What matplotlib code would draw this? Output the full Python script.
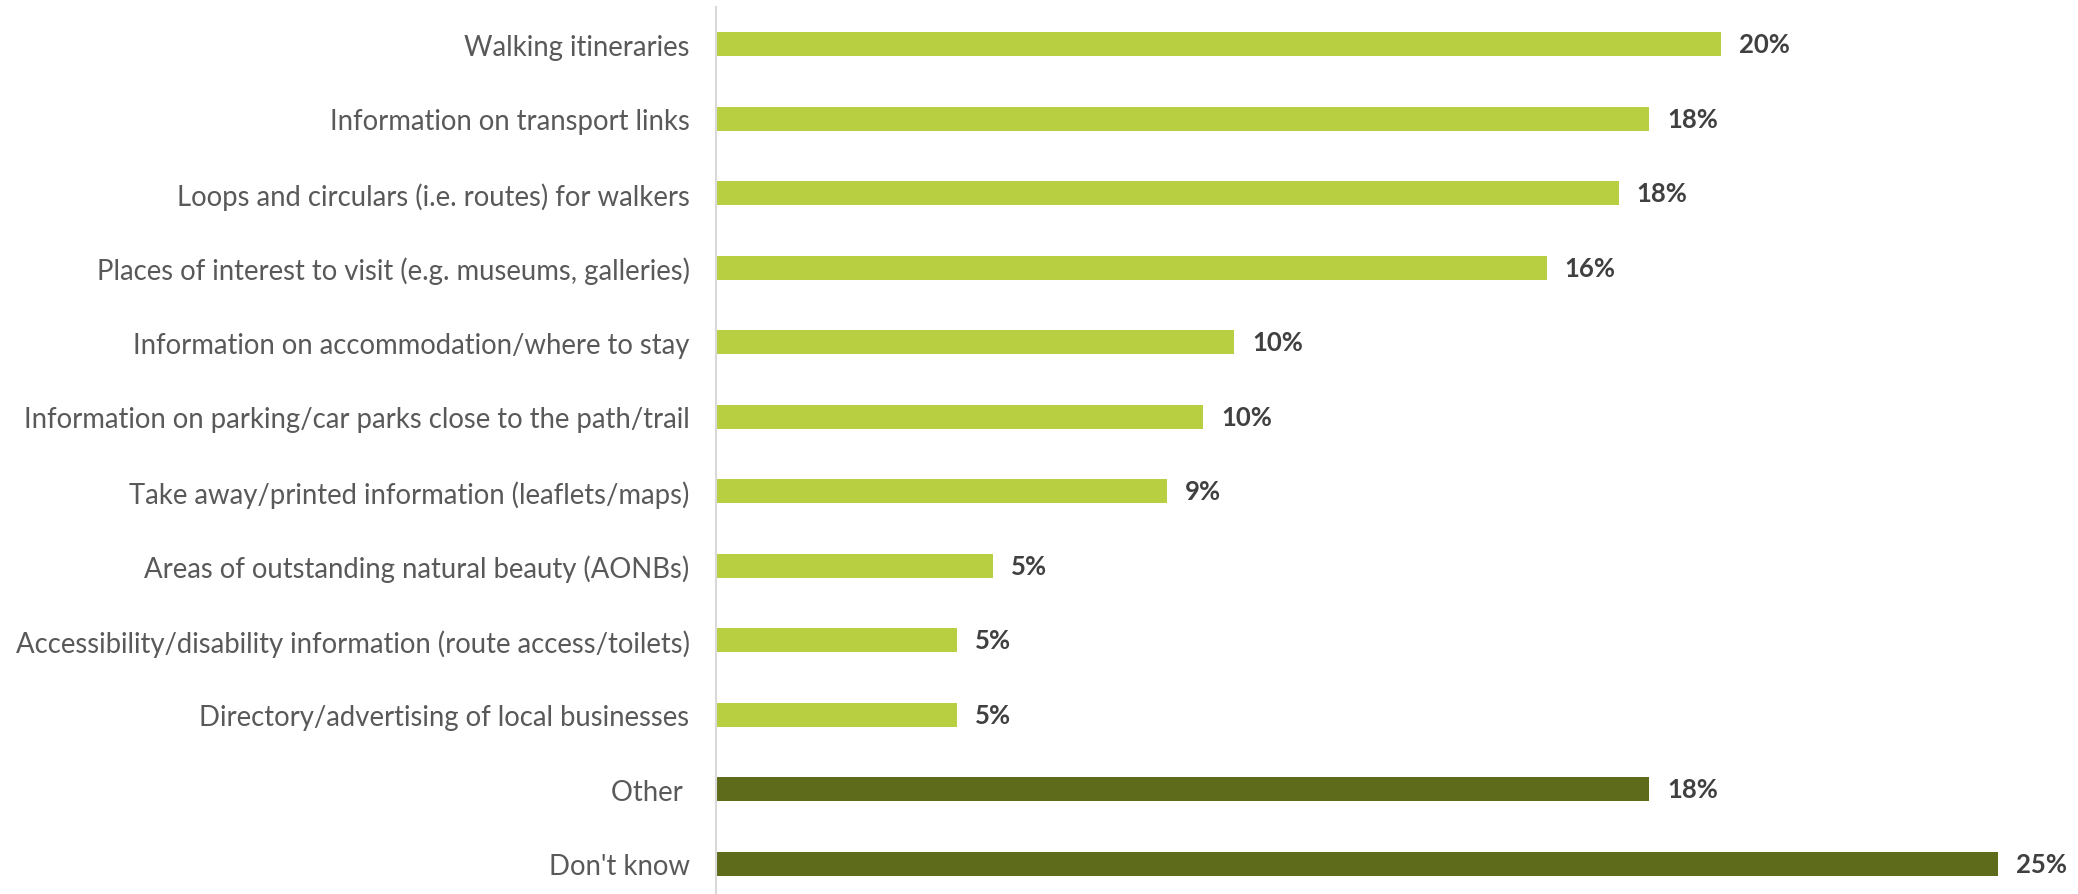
import matplotlib
matplotlib.use("Agg")
import matplotlib.pyplot as plt

categories = [
    "Walking itineraries",
    "Information on transport links",
    "Loops and circulars (i.e. routes) for walkers",
    "Places of interest to visit (e.g. museums, galleries)",
    "Information on accommodation/where to stay",
    "Information on parking/car parks close to the path/trail",
    "Take away/printed information (leaflets/maps)",
    "Areas of outstanding natural beauty (AONBs)",
    "Accessibility/disability information (route access/toilets)",
    "Directory/advertising of local businesses",
    "Other ",
    "Don't know",
]
values = [19.6, 18.2, 17.6, 16.2, 10.1, 9.5, 8.8, 5.4, 4.7, 4.7, 18.2, 25.0]
is_summary = [False] * 10 + [True, True]

light_green = "#B8CF41"
dark_green = "#5E6B1B"

fig = plt.figure(figsize=(20.78, 8.95), dpi=100)
W, H = 2078, 895
left, right = 716, 2000
top, bottom = 8, 902
ax = fig.add_axes([left / W, (H - bottom) / H, (right - left) / W, (bottom - top) / H])

ypos = list(range(len(categories)))
colors = [dark_green if s else light_green for s in is_summary]
bars = ax.barh(ypos, values, height=0.32, color=colors)

ax.set_ylim(len(categories) - 0.5, -0.5)
ax.set_xlim(0, 25.0 * (right - left) / 1282)

ax.set_yticks(ypos)
ax.set_yticklabels(categories, fontsize=19.8, color="#595959", family=["Lato", "DejaVu Sans"])
ax.tick_params(axis="y", length=0, pad=19)
ax.set_xticks([])

for side in ("top", "right", "bottom"):
    ax.spines[side].set_visible(False)
ax.spines["left"].set_color("#D9D9D9")
ax.spines["left"].set_linewidth(1.5)

for b, v in zip(bars, values):
    ax.annotate(f"{round(v + 1e-9):d}%", xy=(b.get_width(), b.get_y() + b.get_height() / 2),
                xytext=(13, 0), textcoords="offset points", va="center", ha="left",
                fontsize=18.5, fontweight="bold", color="#404040",
                family=["Lato", "DejaVu Sans"], annotation_clip=False)

fig.savefig("out.png", dpi=100)
